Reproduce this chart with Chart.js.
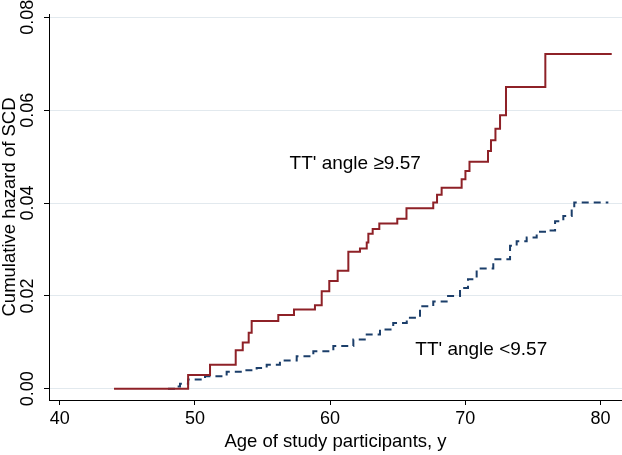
<!DOCTYPE html>
<html><head><meta charset="utf-8">
<script src="https://cdn.jsdelivr.net/npm/chart.js@4/dist/chart.umd.min.js"></script>
<style>html,body{margin:0;padding:0;background:#fff;} canvas{display:block;}</style>
</head><body>
<canvas id="c" width="622" height="455"></canvas>
<script>
// Nelson-Aalen cumulative hazard, TT' angle >= 9.57 (step points: age, hazard)
const redAge = [44.02, 49.50, 51.12, 53.02, 53.54, 53.98, 54.20, 56.17, 57.33, 58.88, 59.38, 59.94, 60.56, 61.35, 62.21, 62.71, 62.83, 63.15, 63.64, 64.97, 65.65, 67.63, 67.91, 68.25, 69.73, 70.01, 70.31, 71.68, 71.90, 72.23, 72.57, 73.01, 75.92, 80.83];
const redHazard = [0, 0.0030, 0.0052, 0.0083, 0.0100, 0.0121, 0.0146, 0.0159, 0.0171, 0.0180, 0.0210, 0.0232, 0.0254, 0.0295, 0.0302, 0.0315, 0.0334, 0.0344, 0.0356, 0.0366, 0.0389, 0.0401, 0.0418, 0.0433, 0.0451, 0.0469, 0.0489, 0.0512, 0.0535, 0.0560, 0.0589, 0.0650, 0.0721, 0.0721];
// TT' angle < 9.57
const blueAge = [48.01, 48.53, 48.90, 49.50, 50.75, 52.35, 53.58, 54.57, 55.31, 56.29, 57.53, 58.76, 60.24, 61.72, 62.71, 63.69, 64.67, 65.67, 66.65, 67.63, 68.62, 69.61, 70.20, 70.84, 72.07, 73.31, 73.80, 74.54, 75.28, 76.02, 76.64, 77.25, 77.87, 78.06, 80.58];
const blueHazard = [0, 0.0005, 0.0011, 0.0020, 0.0027, 0.0037, 0.0040, 0.0045, 0.0052, 0.0061, 0.0070, 0.0081, 0.0092, 0.0106, 0.0117, 0.0128, 0.0142, 0.0153, 0.0178, 0.0188, 0.0200, 0.0217, 0.0236, 0.0259, 0.0279, 0.0308, 0.0318, 0.0326, 0.0338, 0.0341, 0.0361, 0.0372, 0.0390, 0.0401, 0.0401];

const xTicks = [40, 50, 60, 70, 80];
const yTicks = [0, 0.02, 0.04, 0.06, 0.08];
const yTickLabels = ['0.00', '0.02', '0.04', '0.06', '0.08'];
const xTitle = 'Age of study participants, y';
const yTitle = 'Cumulative hazard of SCD';
const labelHigh = { text: "TT' angle \u22659.57", x: 57.0, y: 0.0484 };
const labelLow = { text: "TT' angle <9.57", x: 66.3, y: 0.0085 };

const FONT = "'Liberation Sans', Arial, sans-serif";

const textPlugin = {
  id: 'textPlugin',
  afterDraw(chart) {
    const ctx = chart.ctx;
    const xs = chart.scales.x, ys = chart.scales.y;
    const ca = chart.chartArea;
    ctx.save();
    ctx.fillStyle = '#000';
    ctx.font = '18px ' + FONT;
    ctx.textAlign = 'center';
    ctx.textBaseline = 'middle';
    yTicks.forEach((v, i) => {
      ctx.save();
      ctx.translate(28, ys.getPixelForValue(v));
      ctx.rotate(-Math.PI / 2);
      ctx.fillText(yTickLabels[i], 0, 0);
      ctx.restore();
    });
    ctx.font = '18.5px ' + FONT;
    ctx.save();
    ctx.translate(10, (ca.top + ca.bottom) / 2);
    ctx.rotate(-Math.PI / 2);
    ctx.fillText(yTitle, 0, 0);
    ctx.restore();
    ctx.fillText(xTitle, (ca.left + ca.right) / 2, 442);
    ctx.font = '19px ' + FONT;
    ctx.textAlign = 'left';
    [labelHigh, labelLow].forEach(l => {
      ctx.fillText(l.text, xs.getPixelForValue(l.x), ys.getPixelForValue(l.y));
    });
    ctx.restore();
  }
};

new Chart(document.getElementById('c'), {
  type: 'line',
  data: {
    datasets: [
      {
        data: redAge.map((a, i) => ({ x: a, y: redHazard[i] })),
        borderColor: '#8e2127',
        borderWidth: 2,
        pointRadius: 0,
        stepped: 'before',
        fill: false
      },
      {
        data: blueAge.map((a, i) => ({ x: a, y: blueHazard[i] })),
        borderColor: '#1b3e6a',
        borderWidth: 2,
        borderDash: [7, 5],
        pointRadius: 0,
        stepped: 'before',
        fill: false
      }
    ]
  },
  options: {
    responsive: false,
    animation: false,
    events: [],
    layout: { padding: { top: 14, right: 0, left: 0, bottom: 0 } },
    plugins: { legend: { display: false }, tooltip: { enabled: false } },
    scales: {
      x: {
        type: 'linear',
        min: 39.21,
        max: 81.59,
        afterBuildTicks: s => { s.ticks = xTicks.map(v => ({ value: v })); },
        afterFit: s => { s.height = 55; },
        ticks: { font: { size: 18, family: FONT }, color: '#000', padding: 3, maxRotation: 0, autoSkip: false,
                 callback: v => String(v) },
        grid: { drawOnChartArea: false, tickColor: '#000', tickLength: 5, tickWidth: 1 },
        border: { color: '#000', width: 1 }
      },
      y: {
        type: 'linear',
        min: -0.0024,
        max: 0.0807,
        afterBuildTicks: s => { s.ticks = yTicks.map(v => ({ value: v })); },
        afterFit: s => { s.width = 49; },
        ticks: { display: false },
        grid: { color: '#e2e9ee', lineWidth: 1, tickColor: '#000', tickLength: 5, tickWidth: 1 },
        border: { color: '#000', width: 1 }
      }
    }
  },
  plugins: [textPlugin]
});
</script>
</body></html>
